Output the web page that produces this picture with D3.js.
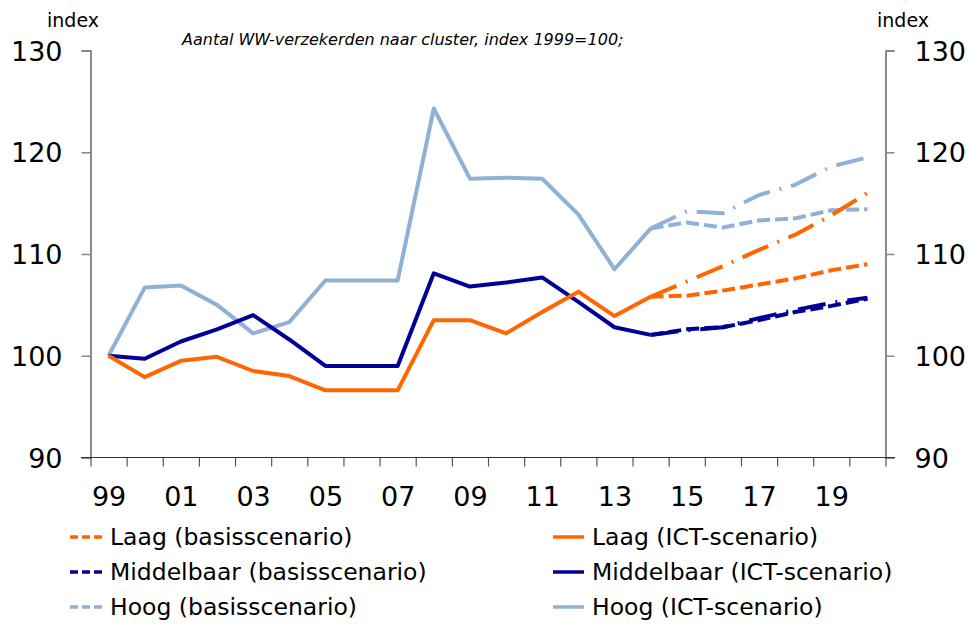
<!DOCTYPE html>
<html>
<head>
<meta charset="utf-8">
<script src="https://cdn.jsdelivr.net/npm/d3@7"></script>
<style>
  body { margin: 0; background: #fff; }
  svg { display: block; font-family: "DejaVu Sans", Verdana, sans-serif; }
</style>
</head>
<body>
<svg id="chart" width="970" height="626"></svg>
<script>
// historical years and values (index 1999=100)
const histYears = d3.range(1999, 2015);
const laagHist   = [100, 97.9, 99.5, 99.9, 98.5, 98.0, 96.6, 96.6, 96.6, 103.5, 103.5, 102.2, 104.3, 106.3, 103.9, 105.8];
const middelHist = [100, 99.7, 101.4, 102.6, 104.0, 101.6, 99.0, 99.0, 99.0, 108.1, 106.8, 107.2, 107.7, 105.3, 102.8, 102.05];
const hoogHist   = [100, 106.7, 106.9, 105.0, 102.2, 103.3, 107.4, 107.4, 107.4, 124.3, 117.4, 117.5, 117.4, 113.9, 108.5, 112.5];

// projections 2014-2020
const projYears = d3.range(2014, 2021);
const laagBasis   = [105.8, 105.9, 106.4, 107.0, 107.6, 108.4, 109.0];
const laagICT     = [105.8, 107.3, 108.8, 110.4, 111.9, 113.8, 116.0];
const middelBasis = [102.05, 102.6, 102.8, 103.5, 104.3, 104.9, 105.6];
const middelICT   = [102.05, 102.5, 102.8, 103.7, 104.5, 105.2, 105.7];
const hoogBasis   = [112.5, 113.1, 112.6, 113.3, 113.5, 114.3, 114.4];
const hoogICT     = [112.5, 114.2, 114.0, 115.8, 116.8, 118.6, 119.5];

const yTicks = [90, 100, 110, 120, 130];
const xLabelYears = d3.range(1999, 2021, 2);

const legendLeft  = ["Laag (basisscenario)", "Middelbaar (basisscenario)", "Hoog (basisscenario)"];
const legendRight = ["Laag (ICT-scenario)", "Middelbaar (ICT-scenario)", "Hoog (ICT-scenario)"];

const colors = ["#ff6600", "#000096", "#8fb1d5"];
const DASH = "13,5";
const DASHDOT = "28,10,2,10";

const svg = d3.select("#chart");

const x = d3.scaleLinear().domain([1998.5, 2020.5]).range([90.5, 885.5]);
const y = d3.scaleLinear().domain([90, 130]).range([457.5, 50.5]);

// y axes
const yLeft = svg.append("g")
    .attr("transform", "translate(90.5,0)")
    .call(d3.axisLeft(y).tickValues(yTicks).tickSize(9).tickPadding(19));
const yRight = svg.append("g")
    .attr("transform", "translate(885.5,0)")
    .call(d3.axisRight(y).tickValues(yTicks).tickSize(9).tickPadding(20));
[yLeft, yRight].forEach(g => {
  g.select(".domain").attr("stroke", "#666").attr("stroke-width", 1.5);
  g.selectAll(".tick line").attr("stroke", "#888").attr("stroke-width", 1.5);
  g.selectAll("text").attr("font-size", 27).attr("fill", "#000")
      .attr("font-family", "DejaVu Sans").attr("dy", "0.36em");
});

// x axis: tick marks between years, labels centred on odd years
const xTickAxis = svg.append("g")
    .attr("transform", "translate(0,457.5)")
    .call(d3.axisBottom(x).tickValues(d3.range(1998.5, 2021, 1)).tickSize(9).tickFormat(""));
xTickAxis.select(".domain").remove();
xTickAxis.selectAll(".tick line").attr("stroke", "#555").attr("stroke-width", 1.2);
svg.append("line")
    .attr("x1", 81).attr("x2", 895)
    .attr("y1", 457.5).attr("y2", 457.5)
    .attr("stroke", "#333").attr("stroke-width", 1.2);

const xLabelAxis = svg.append("g")
    .attr("transform", "translate(0,457.5)")
    .call(d3.axisBottom(x).tickValues(xLabelYears).tickSize(0).tickPadding(29)
      .tickFormat(d => String(d).slice(2)));
xLabelAxis.select(".domain").remove();
xLabelAxis.selectAll("text").attr("font-size", 27).attr("fill", "#000")
    .attr("font-family", "DejaVu Sans");

// lines
const line = d3.line().x(d => x(d[0])).y(d => y(d[1]));
const zip = (yrs, vals) => yrs.map((yr, i) => [yr, vals[i]]);

const series = [
  {years: projYears, vals: laagBasis, c: 0, dash: DASH},
  {years: projYears, vals: middelBasis, c: 1, dash: DASH},
  {years: projYears, vals: hoogBasis, c: 2, dash: DASH},
  {years: projYears, vals: laagICT, c: 0, dash: DASHDOT},
  {years: projYears, vals: middelICT, c: 1, dash: DASHDOT},
  {years: projYears, vals: hoogICT, c: 2, dash: DASHDOT},
  {years: histYears, vals: hoogHist, c: 2, dash: null},
  {years: histYears, vals: middelHist, c: 1, dash: null},
  {years: histYears, vals: laagHist, c: 0, dash: null}
];

svg.append("g")
  .selectAll("path")
  .data(series)
  .join("path")
    .attr("d", d => line(zip(d.years, d.vals)))
    .attr("fill", "none")
    .attr("stroke", d => colors[d.c])
    .attr("stroke-width", 4)
    .attr("stroke-linejoin", "round")
    .attr("stroke-dasharray", d => d.dash);

// titles
svg.append("text").attr("x", 47).attr("y", 27)
    .attr("font-size", 19).text("index");
svg.append("text").attr("x", 877).attr("y", 27)
    .attr("font-size", 19).text("index");
svg.append("text").attr("x", 182).attr("y", 45)
    .attr("font-size", 16).attr("font-style", "italic")
    .text("Aantal WW-verzekerden naar cluster, index 1999=100;");

// legend
const legend = svg.append("g");
const rows = [537, 572, 607];
legend.selectAll("line.l")
  .data(legendLeft)
  .join("line")
    .attr("class", "l")
    .attr("x1", 70).attr("x2", 106)
    .attr("y1", (d, i) => rows[i]).attr("y2", (d, i) => rows[i])
    .attr("stroke", (d, i) => colors[i])
    .attr("stroke-width", 3.5)
    .attr("stroke-dasharray", "8,4");
legend.selectAll("text.l")
  .data(legendLeft)
  .join("text")
    .attr("class", "l")
    .attr("x", 110).attr("y", (d, i) => rows[i] + 8)
    .attr("font-size", 23.5)
    .text(d => d);
legend.selectAll("line.r")
  .data(legendRight)
  .join("line")
    .attr("class", "r")
    .attr("x1", 553).attr("x2", 584)
    .attr("y1", (d, i) => rows[i]).attr("y2", (d, i) => rows[i])
    .attr("stroke", (d, i) => colors[i])
    .attr("stroke-width", 3.5);
legend.selectAll("text.r")
  .data(legendRight)
  .join("text")
    .attr("class", "r")
    .attr("x", 592).attr("y", (d, i) => rows[i] + 8)
    .attr("font-size", 23.5)
    .text(d => d);
</script>
</body>
</html>
